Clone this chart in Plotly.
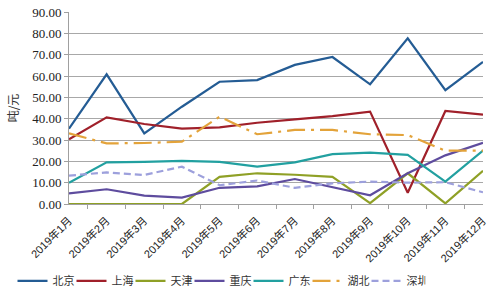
import plotly.graph_objects as go

months = ["2019年1月", "2019年2月", "2019年3月", "2019年4月", "2019年5月", "2019年6月",
          "2019年7月", "2019年8月", "2019年9月", "2019年10月", "2019年11月", "2019年12月"]

beijing = [35.3, 60.8, 33.1, 45.6, 57.3, 58.1, 65.2, 68.9, 56.1, 77.7, 53.4, 66.6]
shanghai = [30.3, 40.6, 37.5, 35.3, 35.9, 38.1, 39.7, 41.2, 43.3, 5.3, 43.6, 41.9]
tianjin = [0.0, 0.0, 0.0, 0.0, 12.7, 14.4, 13.7, 12.7, 0.4, 14.4, 0.3, 15.6]
chongqing = [5.0, 6.9, 3.9, 3.0, 7.6, 8.3, 11.7, 7.8, 4.1, 14.4, 22.8, 28.7]
guangdong = [10.0, 19.5, 19.7, 20.2, 19.7, 17.5, 19.5, 23.4, 24.1, 23.0, 10.5, 25.0]
hubei = [33.1, 28.4, 28.6, 29.2, 40.9, 32.7, 34.7, 34.7, 32.7, 32.3, 25.0, 25.0]
shenzhen = [13.3, 14.8, 13.6, 17.5, 8.8, 11.0, 7.6, 9.7, 10.5, 10.0, 10.2, 5.5]

series = [
    ("北京", beijing, "#245C94", "solid"),
    ("上海", shanghai, "#A0202A", "solid"),
    ("天津", tianjin, "#8FA026", "solid"),
    ("重庆", chongqing, "#5E4C9E", "solid"),
    ("广东", guangdong, "#22A0A0", "solid"),
    ("湖北", hubei, "#E3A33A", "18px,6px,3px,6px"),
    ("深圳", shenzhen, "#9DA0DC", "7px,4px"),
]

fig = go.Figure()
for name, vals, color, dash in series:
    fig.add_trace(go.Scatter(x=months, y=vals, name=name, mode="lines",
                             line=dict(color=color, width=2.2, dash=dash)))

fig.update_layout(
    width=500, height=302,
    margin=dict(l=69, r=17, t=12, b=98, autoexpand=False),
    paper_bgcolor="white", plot_bgcolor="white",
    font=dict(family="Liberation Sans, Noto Sans CJK SC", color="#333333"),
    showlegend=True,
    legend=dict(orientation="h", xref="container", x=0.025, xanchor="left",
                yref="container", y=0.07, yanchor="middle",
                bgcolor="rgba(0,0,0,0)",
                font=dict(size=11, family="Noto Sans CJK SC", color="#333333"),
                entrywidth=14, entrywidthmode="pixels", itemwidth=30,
                tracegroupgap=0),
)
fig.update_xaxes(
    type="category", tickson="boundaries", ticks="outside", ticklen=4,
    tickcolor="#A0A0A0", showline=True, linecolor="#A0A0A0", linewidth=1,
    showgrid=False, tickangle=-45, automargin=False, ticklabelstandoff=5,
    tickfont=dict(size=11, family="Liberation Sans, Noto Sans CJK SC", color="#222222"),
)
fig.update_yaxes(
    range=[0, 90], dtick=10, tickformat=".2f",
    showgrid=True, gridcolor="#A8A8A8", gridwidth=1,
    showline=True, linecolor="#A0A0A0", linewidth=1,
    ticks="outside", ticklen=4, tickcolor="#A0A0A0",
    zeroline=False, automargin=False,
    tickfont=dict(size=13, family="Liberation Serif", color="#222222"),
    title=dict(text="吨/元", font=dict(size=12, family="Noto Sans CJK SC", color="#333333"),
               standoff=10),
)

fig.write_html("out.html")
